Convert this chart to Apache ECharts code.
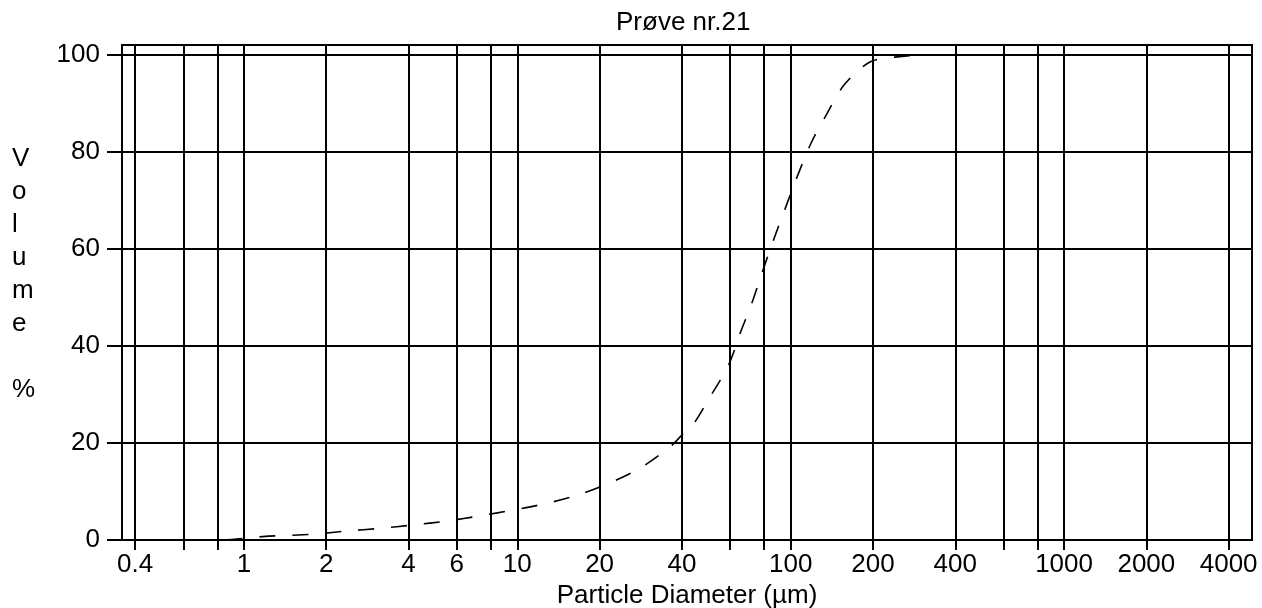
<!DOCTYPE html>
<html>
<head>
<meta charset="utf-8">
<title>Prøve nr.21</title>
<script src="https://cdn.jsdelivr.net/npm/echarts@6/dist/echarts.min.js"></script>
<style>
  html, body { margin: 0; padding: 0; background: #fff; }
  #chart { width: 1262px; height: 608px; }
</style>
</head>
<body>
<div id="chart"></div>
<script>
// particle diameter (µm) / cumulative volume (%)
const diameters = [0.375, 0.5, 0.7, 0.9, 1.17, 1.79, 2.37, 3.15, 4.16, 5.51, 7.35, 9.72, 12.8, 16.9, 22.1, 28.5, 36.2, 40, 44.1, 50.7, 55.2, 59.2, 62.6, 65.3, 72, 78.4, 86.9, 96.2, 106.7, 118.8, 135.6, 157, 195, 250, 350, 1000, 4800];
const volumes = [0, 0, 0, 0.1, 0.7, 1.2, 1.85, 2.4, 3.1, 3.9, 5.0, 6.2, 7.55, 9.4, 11.9, 15.0, 19.2, 21.6, 23.9, 29.5, 32.9, 36.0, 39.5, 42.6, 48.7, 54.9, 62.1, 68.8, 75.5, 81.8, 87.8, 93.8, 98.5, 99.6, 100, 100, 100];

// vertical grid lines and x labels
const gridValues = [0.4, 0.6, 0.8, 1, 2, 4, 6, 8, 10, 20, 40, 60, 80, 100, 200, 400, 600, 800, 1000, 2000, 4000];
const xLabels = [0.4, 1, 2, 4, 6, 10, 20, 40, 100, 200, 400, 1000, 2000, 4000];
const yLabels = [0, 20, 40, 60, 80, 100];

const font = 'Liberation Sans, Arial, sans-serif';
const chart = echarts.init(document.getElementById('chart'));

const points = diameters.map((d, i) => [d, volumes[i]]);

const option = {
  animation: false,
  backgroundColor: '#fff',
  title: {
    text: 'Prøve nr.21',
    left: 616,
    top: 10,
    padding: 0,
    textStyle: { fontFamily: font, fontSize: 26, fontWeight: 'normal', color: '#000' }
  },
  graphic: [{
    type: 'text',
    left: 12,
    top: 142,
    style: {
      text: 'V\no\nl\nu\nm\ne\n\n%',
      fontFamily: font,
      fontSize: 26,
      lineHeight: 33,
      align: 'center',
      fill: '#000'
    }
  }],
  grid: {
    left: 122, right: 10, top: 45, bottom: 68,
    outerBoundsMode: 'none',
    show: true, borderColor: '#000', borderWidth: 2
  },
  xAxis: {
    type: 'log',
    logBase: 10,
    min: 0.358,
    max: 4870,
    name: 'Particle Diameter (µm)',
    nameLocation: 'middle',
    nameGap: 41,
    nameTextStyle: { fontFamily: font, fontSize: 26, color: '#000' },
    axisLine: { show: true, lineStyle: { color: '#000', width: 2 } },
    axisTick: { show: true, length: 10, customValues: gridValues, lineStyle: { color: '#000', width: 2 } },
    axisLabel: {
      customValues: xLabels,
      margin: 12,
      fontFamily: font, fontSize: 26, color: '#000',
      formatter: v => String(Number(v.toPrecision(6)))
    },
    splitLine: { show: false },
    minorTick: { show: false },
    minorSplitLine: { show: false }
  },
  yAxis: {
    type: 'value',
    min: 0,
    max: 102,
    interval: 20,
    axisLine: { show: true, lineStyle: { color: '#000', width: 2 } },
    axisTick: { show: true, length: 15, customValues: yLabels, lineStyle: { color: '#000', width: 2 } },
    axisLabel: { customValues: yLabels, margin: 22, fontFamily: font, fontSize: 26, color: '#000' },
    splitLine: { show: true, lineStyle: { color: '#000', width: 2 } }
  },
  series: [{
    type: 'line',
    data: points,
    showSymbol: false,
    smooth: 0.3,
    lineStyle: { color: '#000', width: 1.6, type: [16, 17] },
    markLine: {
      silent: true,
      symbol: 'none',
      label: { show: false },
      lineStyle: { color: '#000', width: 2, type: 'solid' },
      data: gridValues.map(v => ({ xAxis: v }))
    }
  }]
};

chart.setOption(option);
</script>
</body>
</html>
